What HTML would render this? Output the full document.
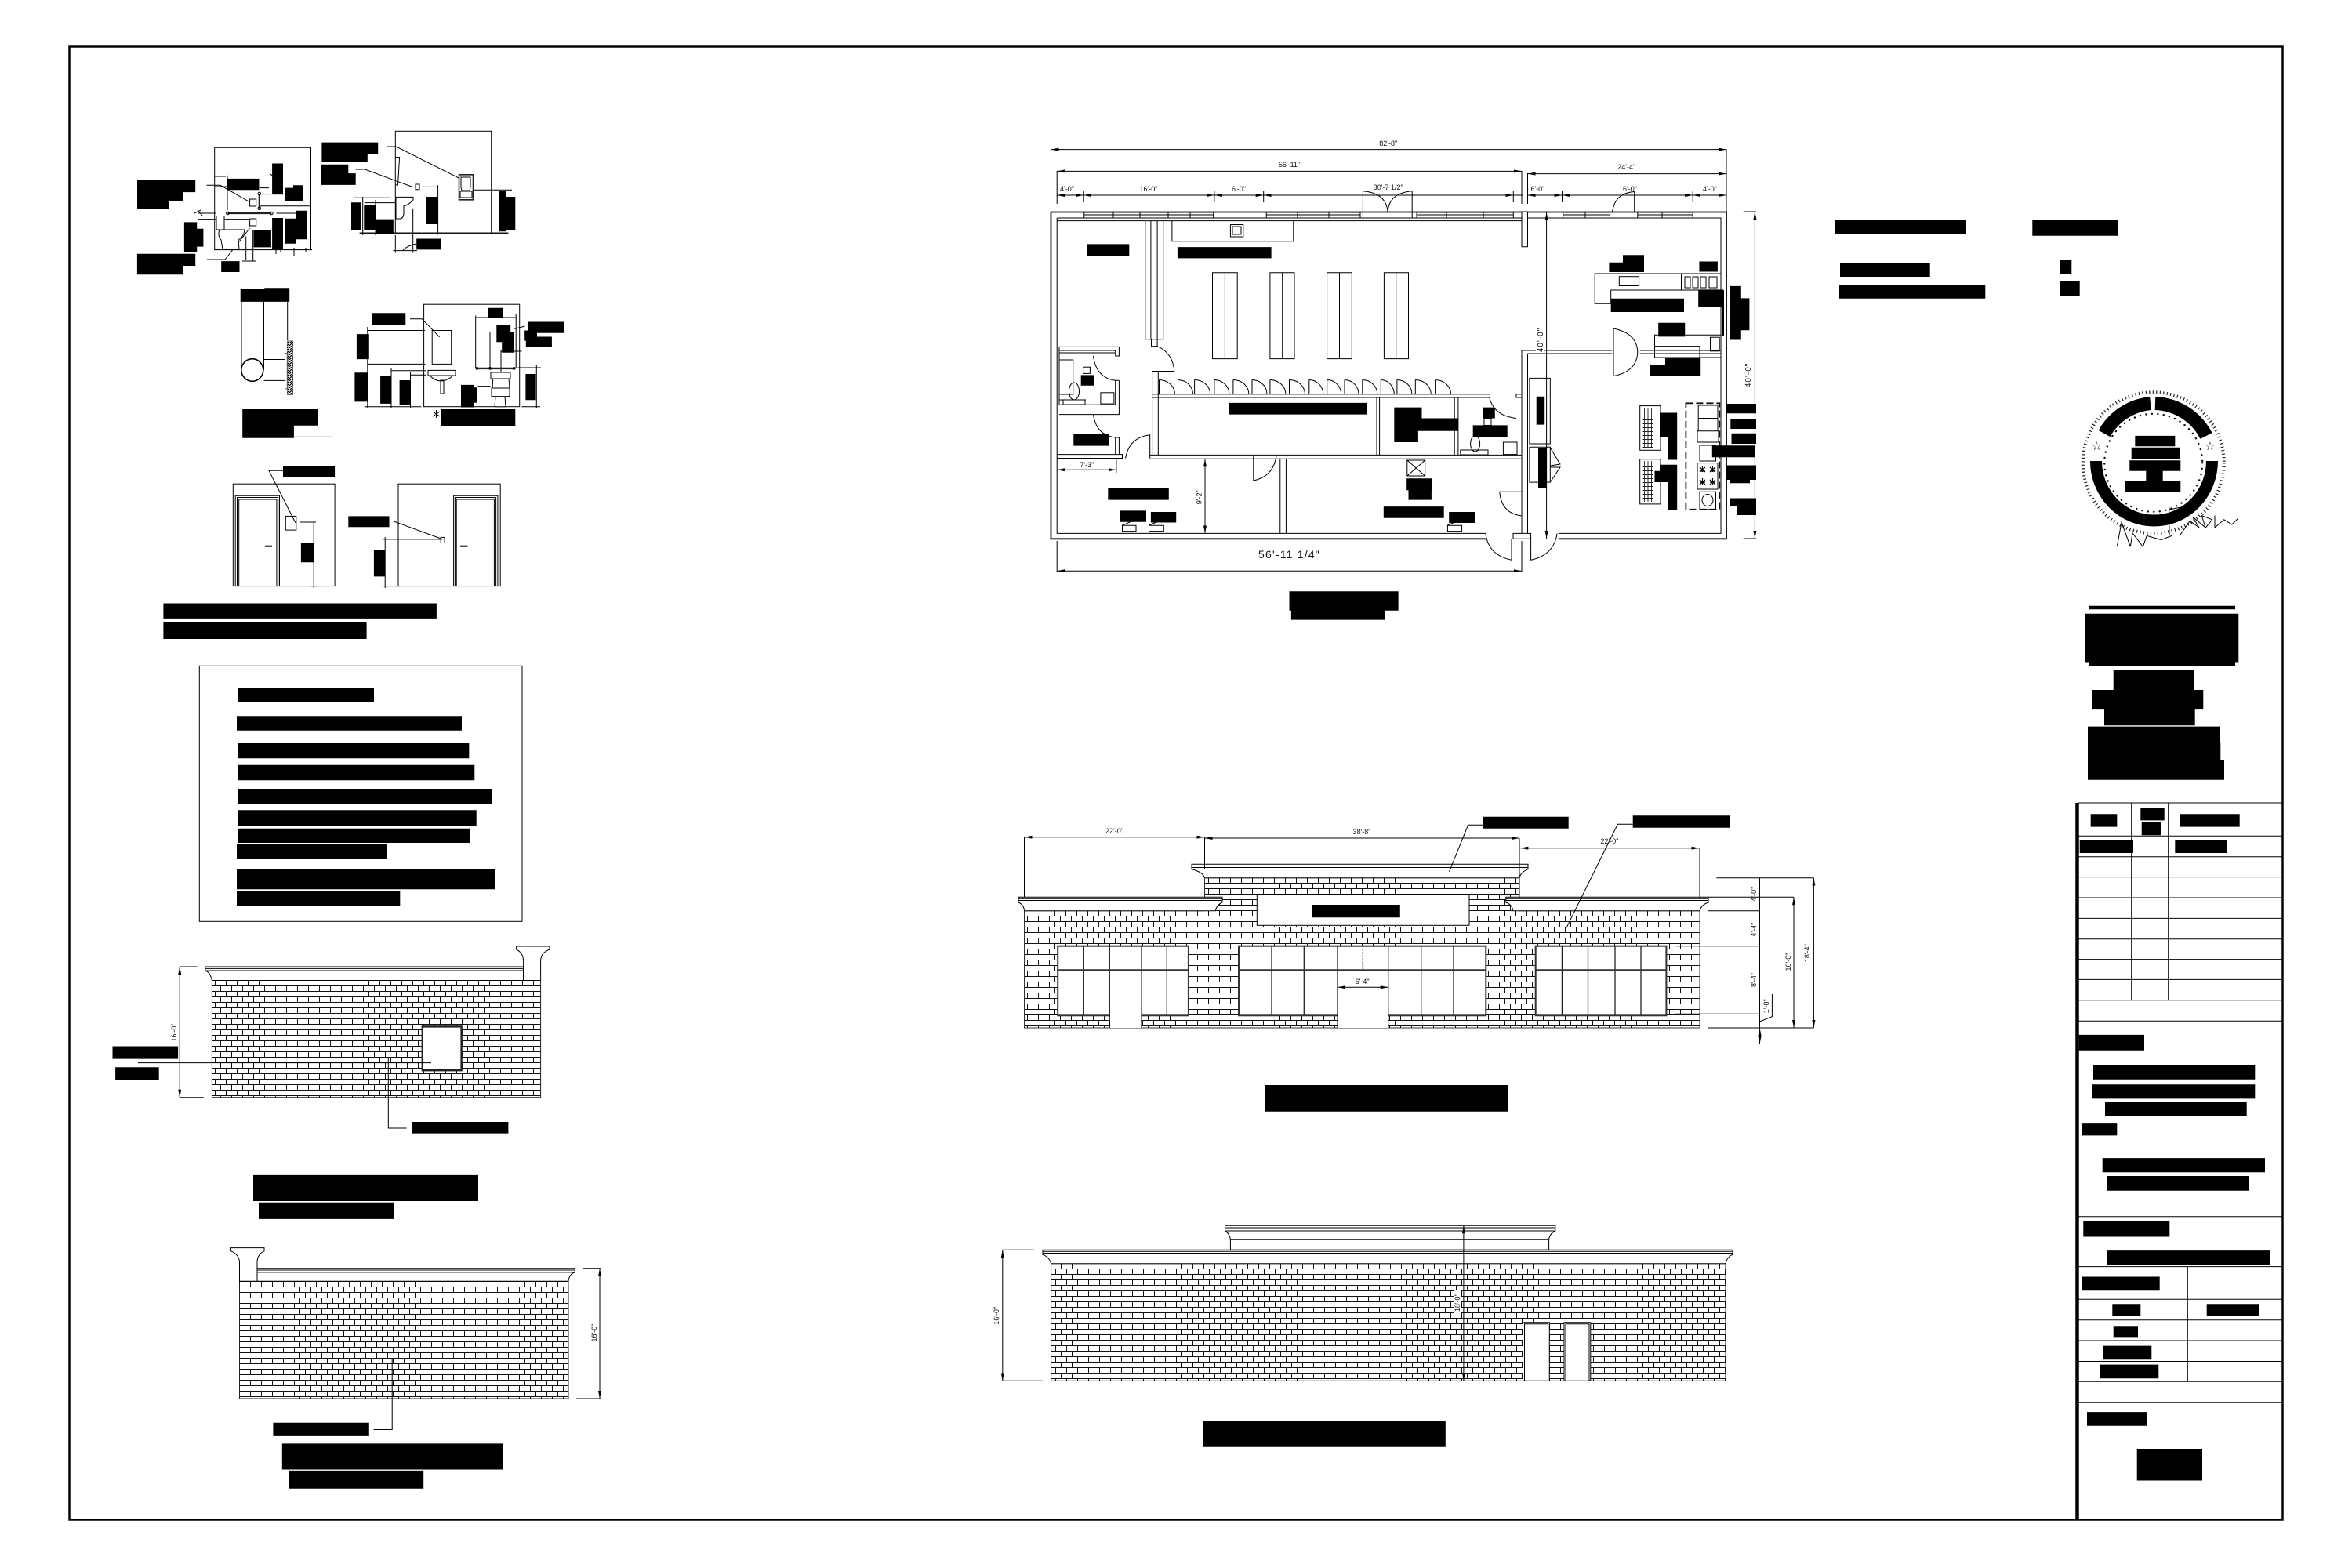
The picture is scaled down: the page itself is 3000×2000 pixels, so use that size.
<!DOCTYPE html>
<html><head><meta charset="utf-8"><title>Plan sheet</title>
<style>html,body{margin:0;padding:0;background:#fff}svg{display:block}
text{font-family:"Liberation Sans",sans-serif;fill:#111}
.d{font-size:9px;text-anchor:middle}
.l{stroke:#000;stroke-width:1;fill:none}
.m{stroke:#111;stroke-width:1.5;fill:none}
.w{stroke:#000;stroke-width:1;fill:#fff}
</style></head><body>
<svg xmlns="http://www.w3.org/2000/svg" width="3000" height="2000" viewBox="0 0 3000 2000">
<defs>
<pattern id="b1" patternUnits="userSpaceOnUse" x="274" y="1250" width="14" height="14"><path d="M0 .5H14M0 7.5H14M.5 0V7M7.5 7V14" stroke="#111" stroke-width="1" fill="none"/></pattern>
<pattern id="b2" patternUnits="userSpaceOnUse" x="305" y="1634" width="14" height="14"><path d="M0 .5H14M0 7.5H14M.5 0V7M7.5 7V14" stroke="#111" stroke-width="1" fill="none"/></pattern>
<pattern id="b3" patternUnits="userSpaceOnUse" x="1541" y="1119" width="14" height="14"><path d="M0 .5H14M0 7.5H14M.5 0V7M7.5 7V14" stroke="#111" stroke-width="1" fill="none"/></pattern>
<pattern id="b4" patternUnits="userSpaceOnUse" x="1353" y="1611" width="14" height="14"><path d="M0 .5H14M0 7.5H14M.5 0V7M7.5 7V14" stroke="#111" stroke-width="1" fill="none"/></pattern>
<pattern id="h" patternUnits="userSpaceOnUse" width="3" height="3"><path d="M0 3L3 0" stroke="#000" stroke-width="1.2"/></pattern>
<pattern id="g" patternUnits="userSpaceOnUse" width="4.5" height="5"><path d="M0 .5H5M.5 0V5" stroke="#222" stroke-width=".9" fill="none"/></pattern>
<marker id="a" viewBox="0 0 10 4" refX="10" refY="2" markerWidth="10" markerHeight="4" markerUnits="userSpaceOnUse" orient="auto-start-reverse"><path d="M0 0L10 2L0 4Z" fill="#000"/></marker>
</defs>
<rect width="3000" height="2000" fill="#fff"/>
<rect x="88.5" y="59.5" width="2823" height="1879" fill="none" stroke="#000" stroke-width="2.5"/>

<!-- TITLE BLOCK LINES -->
<path d="M2649.5 1024V1938" stroke="#000" stroke-width="4.5"/>
<path class="l" stroke-width="1" d="M2651 1024H2912M2651 1066.3H2912M2651 1092.7H2912M2651 1118.6H2912M2651 1145H2912M2651 1171.4H2912M2651 1197.8H2912M2651 1223.6H2912M2651 1249.4H2912M2651 1275.8H2912M2651 1302.3H2912M2651 1551.7H2912M2651 1615.6H2912M2651 1657.3H2912M2651 1683.7H2912M2651 1710H2912M2651 1736.5H2912M2651 1762.3H2912M2651 1788.8H2912M2718.7 1024V1275.8M2765.7 1024V1275.8M2790.3 1615.6V1762.3"/>

<!-- BATHROOM DETAIL A -->
<g class="l">
<rect x="273.7" y="188.3" width="122.8" height="130" class="l"/>
<path class="m" d="M273 318.4H398"/>
<path class="l" d="M263.5 236.3H281L317.8 257.3M263.9 331H287L318.6 291M290 223.7V268M252.4 272H275M252.4 279.6H317.8M330.8 239.6H343M330.8 247.6H346M330.8 262.8H397M352.4 272H391M313.7 301.5V331M322.7 293V333M309 333H327M274 225H288M273 238H292M345 222L352 228M252 268L258 275M352 316V324M358 316V322M375 316V326M390 316V322M248 272L256 268"/>
<path d="M290.4 272H346.3M330.8 247V265.7" stroke="#222" stroke-width="2.2" fill="none"/>
<circle cx="290.4" cy="272" r="1.8"/><circle cx="346.3" cy="272" r="1.8"/><circle cx="330.8" cy="247" r="1.8"/><circle cx="330.8" cy="265.7" r="1.8"/>
<path class="w" d="M318.6 254H326.7V263H318.6ZM318.6 279H326.7V288H318.6Z"/>
<path class="w" d="M276 275.5H286V293H276ZM280 293H312Q311 302 304 306L305 318H284L282 306Q277 300 280 293Z"/>
</g>

<!-- BATHROOM DETAIL B -->
<g>
<rect x="504.3" y="167.3" width="122.4" height="130" class="l" stroke-width="1.4"/>
<path class="m" d="M458.6 297.3H648.4"/>
<path class="l" d="M493.3 187H505.5L589.2 229.1M453.3 216H465.5L525.9 238.4M604.7 242.2H653M645.5 240.5V298M538 238.4H558.6M558.6 236.3V299.4M450.8 252.3H497.3M462.7 251V300M464.7 258.6H504.3M479 255V300M504.3 300V322.6M526.7 265.7V322.6M501.4 319.6H532M514 319Q520 313 531 311M504.3 200.5H509.6L507.5 236H504.3"/>
<path d="M585.5 222.8h18v32h-18z" fill="#fff" stroke="#222" stroke-width="1.6"/>
<path class="l" d="M588 226h12v13l-1 4h-10l-1-4zM587 244h15v8h-15z"/>
<path class="w" d="M530 235h5v6.7h-5z"/>
<path class="w" d="M505 251.4H527V255Q522 261 515 263V273Q514 279 510 279H505Z"/>
</g>

<!-- GRAB BAR SECTION -->
<g>
<path class="l" d="M308 385V472M336.5 385V472M366.7 385V434M336.5 458.5H363.5M336.5 485.4H363.5"/>
<ellipse cx="321.8" cy="472" rx="14" ry="14.3" fill="#fff" stroke="#000" stroke-width="1.6"/>
<rect x="366.3" y="434.9" width="7.4" height="68.6" fill="url(#h)" stroke="#333" stroke-width=".5"/>
<rect x="363.5" y="450.5" width="2.8" height="45.5" fill="#fff" stroke="#555"/>
<path class="l" d="M374.9 557.4H424.7"/>
</g>

<!-- BATHROOM DETAIL D -->
<g>
<rect x="540.6" y="388.2" width="122.1" height="130.5" class="l" stroke-width="1.3"/>
<rect x="551.2" y="421.5" width="24.5" height="42.9" class="l"/>
<path class="l" d="M523 406.7H538.2L560.6 429.9M468.8 421.5H542M468.8 464.4H542.5M468.8 417V520M499 472.8H543M499 470V520M523.5 478.3H543M523.5 474V520M464.7 518.7H537.3M665.5 518.7H689M606.7 402.5V470M606.7 405H658.2M658.2 400V470M625 423.6V470M639 446.7V478.3M639 448H665.5M684.3 465.7V520.4M660.6 469H690M609.6 492.6H625.5M656.5 419.4L669.6 416M552 525L561 531M552 531L561 525M556.5 523V533"/>
<path d="M608.4 469.9H655.7" stroke="#222" stroke-width="2.4"/>
<circle cx="608.4" cy="469.9" r="1.9"/><circle cx="625" cy="469.9" r="1.9"/><circle cx="655.7" cy="469.9" r="1.9"/>
<path class="w" d="M546 472.4H581V479H546Z"/>
<path class="w" d="M548 479Q562 493 578 479ZM562 485V502H566V485Z"/>
<path class="w" d="M626 475H651V483H626ZM628.8 483H649L650 495H628ZM627 495H650V505.6H627ZM632 505.6H644L645 518.7H631Z"/>
</g>

<!-- INT ELEV E -->
<g>
<rect x="297.3" y="617.2" width="129.8" height="130.4" class="l" stroke-width="1.2"/>
<path class="l" d="M300.2 747.6V632.3H356.5V747.6M304.7 747.6V637H352.9V747.6M302.5 747.6V634.5H354.7V747.6"/>
<path d="M338 696.7H347" stroke="#000" stroke-width="2"/>
<rect x="364.3" y="658.4" width="13.5" height="17.7" class="l"/>
<path class="l" d="M361 600.3H343L377 667M383 666H403M400.2 666V750M396 747.6H404"/>
<rect x="508" y="617.2" width="130.2" height="130.4" class="l" stroke-width="1.2"/>
<path class="l" d="M578.6 747.6V632.3H634.9V747.6M582.2 747.6V637H630.4V747.6M580.4 747.6V634.5H632.6V747.6"/>
<path d="M587 696.7H596.5" stroke="#000" stroke-width="2"/>
<rect x="562.2" y="685.4" width="4.9" height="7.1" class="l"/>
<path class="l" d="M502.2 665L564.7 687.9M488 687.9H564M491.2 685V750M487 747.6H510"/>
<path class="l" d="M205.5 793.5H690.4"/>
</g>

<!-- NOTES BOX -->
<rect x="254.3" y="849.3" width="411.7" height="326" class="l" stroke-width="1.2"/>

<!-- SIDE ELEV 1 -->
<g>
<rect x="270.4" y="1250.5" width="419.2" height="149.2" fill="url(#b1)" stroke="#222"/>
<path class="w" d="M261.8 1233H667.6V1250.5H270.4Q268 1240 261.8 1238Z"/>
<path class="l" d="M262 1235.4H667M262 1238H667"/>
<path class="w" d="M667.6 1250.5V1225Q667 1215 658.6 1211V1207H701V1211Q690 1215 689.6 1225V1250.5Z"/>
<rect x="538.8" y="1309.4" width="49.8" height="55.8" fill="#fff" stroke="#222" stroke-width="2.4"/>
<path class="l" d="M176 1355.6H550M229 1233H251.6M229 1399.7H259.8M495.3 1349V1439H518.6"/>
<path class="l" d="M229.2 1233V1399.7" marker-start="url(#a)" marker-end="url(#a)"/>
<text class="d" transform="translate(225,1317) rotate(-90)">16'-0"</text>
</g>

<!-- SIDE ELEV 2 -->
<g>
<rect x="305.5" y="1634.3" width="419.5" height="149.7" fill="url(#b2)" stroke="#222"/>
<path class="w" d="M733.3 1617.8H328V1634.3H725Q726 1625 733.3 1622.9Z"/>
<path class="l" d="M328 1620H733M328 1622.9H733"/>
<path class="w" d="M305.5 1634.3V1610Q305 1600 294.5 1595.8V1591.6H337V1595.8Q328 1600 328 1610V1634.3Z"/>
<path class="l" d="M743 1617.8H766.7M735 1784H767M500.2 1732.6V1823.5H476.5"/>
<path class="l" d="M765 1617.8V1784" marker-start="url(#a)" marker-end="url(#a)"/>
<text class="d" transform="translate(761,1700) rotate(-90)">16'-0"</text>
</g>

<!-- FLOOR PLAN -->
<g>
<path d="M1340.5 270.5H2202V687.3M1340.5 270V687.3H1895M1987.8 687.3H2202" stroke="#000" stroke-width="1.8" fill="none"/>
<path class="l" d="M1348.2 278H1941M1948.5 278H2195V680.4H1987.8M1895 680.4H1348.2V278M1348.2 281.6H1941"/>
<!-- windows -->
<path class="w" d="M1382.8 271H1547.7V278H1382.8ZM1615.2 271H1735V278H1615.2ZM1807 271H1930.3V278H1807ZM1993.7 271H2053.6V278H1993.7ZM2088.8 271H2159.2V278H2088.8Z"/>
<path class="l" d="M1382.8 274H1547.7M1615.2 274H1735M1807 274H1930.3M1993.7 274H2053.6M2088.8 274H2159.2M1420 271V278M1454 271V278M1490 271V278M1518 271V278M1655 271V278M1695 271V278M1845 271V278M1892 271V278M2022 271V278M2120 271V278"/>
<!-- double door -->
<path class="l" d="M1738.4 243.7V270M1801.2 243.7V270M1738.4 243.7Q1768 246 1770 270Q1772 246 1801.2 243.7M1738.4 278V270M1801.2 278V270"/>
<path class="l" d="M2084.7 244.5V270M2056.5 270Q2060 246 2084.7 244.5"/>
<!-- interior stub -->
<path class="w" d="M1941 270H1948.5V314.7H1941Z"/>
<path class="l" d="M1941 447V680.4M1948.5 451V680.4M1941 447H2056.5M1948.5 451H2056.5M2091.7 447H2195M2091.7 451H2195"/>
<path class="l" d="M2058 419V479.6M2058 419Q2088 425 2088.8 449Q2088 474 2058 479.6"/>
<!-- sink counter -->
<path class="l" d="M1494.9 281.6V307.8H1649.8V281.6"/>
<rect x="1569.4" y="286.5" width="16.4" height="15.5" class="l"/>
<rect x="1572" y="289" width="11" height="10" class="l"/>
<!-- shelves -->
<path class="l" d="M1546.5 347.8H1578.2V457.6H1546.5ZM1562.4 347.8V457.6M1619.9 347.8H1651V457.6H1619.9ZM1635.7 347.8V457.6M1692.6 347.8H1724.3V457.6H1692.6ZM1708.5 347.8V457.6M1765.4 347.8H1796.5V457.6H1765.4ZM1780.7 347.8V457.6"/>
<!-- partition -->
<path class="l" d="M1460.8 281.6V432.7H1483.7V281.6M1467.9 281.6V432.7M1476.1 281.6V432.7M1468.5 432.7V441.6H1476.1V432.7M1476 441.6Q1496 450 1497.8 473.5M1469.6 473.5H1497.8"/>
<!-- restroom -->
<path class="l" d="M1351 442.4H1427.4V454H1422.7V447H1351M1351 450H1422M1351 442.4V516.3M1427.4 485.3V528.6H1351M1422.7 485.3V516.3H1351M1422.7 485.3H1427.4M1422.7 558V579.6M1427.4 558V579.6M1422.7 558H1427.4M1348 579.6H1431.5V584.5H1348M1394.5 454Q1398 482 1422.7 485.3M1394.5 528.6Q1398 555 1422.7 558M1351 459H1368.7V503H1351M1351 510H1385"/>
<rect x="1381.6" y="468.2" width="8.8" height="8.2" class="l"/>
<ellipse cx="1370" cy="499" rx="6.5" ry="11" class="l"/>
<path class="l" d="M1356 510H1384V516H1356Z"/>
<rect x="1403.9" y="500.8" width="17" height="14.3" class="l" stroke-width="1.5"/>
<path class="l" d="M1435.6 584.5Q1440 558 1466.7 554.7V584.5"/>
<path class="l" d="M1348.2 599.2" />
<path class="l" d="M1348.2 599.2H1423.9" marker-start="url(#a)" marker-end="url(#a)"/>
<path class="l" d="M1423.9 585V603"/>
<text class="d" x="1386.3" y="596">7'-3"</text>
<!-- central block -->
<path class="l" d="M1469.6 502.9H1901M1469.6 507H1899.8M1469.6 473.5V580.4M1477.3 473.5V580.4M1466.7 580.4H1941M1466.7 585.3H1941M1756 507V580.4M1759.6 507V580.4M1855.2 507V580.4M1859.9 507V580.4M1933.9 502.9H1941V507H1933.9ZM1899.8 507Q1905 530 1933.9 533.5"/>
<path class="l" d="M1478.5 484.5V503M1478.5 484.5A20 18.5 0 0 1 1498.5 503M1502.5 484.5V503M1502.5 484.5A19 18.5 0 0 1 1521.5 503M1523.6 484.5V503M1523.6 484.5A20 18.5 0 0 1 1543.6 503M1548.9 484.5V503M1548.9 484.5A19 18.5 0 0 1 1567.9 503M1572.9 484.5V503M1572.9 484.5A20 18.5 0 0 1 1592.9 503M1597 484.5V503M1597 484.5A19 18.5 0 0 1 1616 503M1619.9 484.5V503M1619.9 484.5A20 18.5 0 0 1 1639.9 503M1644.5 484.5V503M1644.5 484.5A20 18.5 0 0 1 1664.5 503M1669.8 484.5V503M1669.8 484.5A18 18.5 0 0 1 1687.8 503M1692.7 484.5V503M1692.7 484.5A18 18.5 0 0 1 1710.7 503M1715 484.5V503M1715 484.5A18 18.5 0 0 1 1733 503M1737.8 484.5V503M1737.8 484.5A19 18.5 0 0 1 1756.8 503M1761.3 484.5V503M1761.3 484.5A17 18.5 0 0 1 1778.3 503M1781.9 484.5V503M1781.9 484.5A19 18.5 0 0 1 1800.9 503M1805.3 484.5V503M1805.3 484.5A20 18.5 0 0 1 1825.3 503M1830.6 484.5V503M1830.6 484.5A20 18.5 0 0 1 1850.6 503"/>
<rect x="1893" y="533.5" width="9" height="9" class="l"/>
<ellipse cx="1881.6" cy="566" rx="6" ry="10" class="l"/>
<path class="l" d="M1862.8 574H1898V580H1862.8Z"/>
<rect x="1917.4" y="564" width="17.6" height="15.6" class="l" stroke-width="1.4"/>
<!-- columns -->
<path class="l" d="M1950.9 482.4H1977.3V566H1950.9ZM1950.9 570.2H1977.3V615.1H1950.9ZM1977.3 571L1990 592L1977.3 594ZM1977.3 596L1990 596L1977.3 615"/>
<!-- right door & post -->
<path class="l" d="M1912.7 627.3H1941M1912.7 627.3Q1915 655 1941 658M1895 680.4Q1898 708 1928 714.3V687M1930 680.4H1952.6V687.3H1930ZM1952.6 687V714.3Q1982 708 1986.1 680.4"/>
<!-- lower rooms -->
<path class="l" d="M1632.8 585.3V680.4M1640.4 585.3V680.4M1598.8 581.6V613M1598.8 613Q1624 608 1628 581.6"/>
<path class="l" d="M1537 585.3V680.4" marker-start="url(#a)" marker-end="url(#a)"/>
<text class="d" transform="translate(1532.5,634.3) rotate(-90)">9'-2"</text>
<path class="l" d="M1431.5 670.2H1449V677.6H1431.5ZM1465.5 670.2H1484.3V677.6H1465.5ZM1846.4 670.2H1864.6V677.6H1846.4ZM1431.5 670L1448 663M1465.5 670L1482 663M1846.4 670L1863 663"/>
<rect x="1794.8" y="587" width="22.9" height="20" class="l" stroke-width="1.5"/>
<path class="l" d="M1794.8 587L1817.7 607M1817.7 587L1794.8 607"/>
<!-- kitchen -->
<path class="l" d="M2034.2 349H2195V370H2054.7V387.3H2034.2ZM2144.5 349V370M2054.7 370H2197.5V429M2198.5 370V429"/>
<rect x="2065.3" y="352.7" width="25.3" height="11.8" class="l"/>
<path class="l" d="M2149 353H2156V367H2149ZM2159 353H2166V367H2159ZM2169 353H2176V367H2169ZM2180 353H2190V367H2180Z"/>
<path class="l" d="M2110.5 427.3H2195V456H2110.5ZM2110.5 441.6H2168V456H2110.5Z"/>
<rect x="2181.5" y="430.2" width="11.7" height="17.6" class="l" stroke-width="1.6"/>
<rect x="2091.7" y="517.6" width="26.3" height="56.7" class="l" stroke-width="1.3"/>
<rect x="2095.5" y="520" width="13" height="52" fill="url(#g)"/>
<rect x="2091.7" y="585.7" width="26.3" height="57.2" class="l" stroke-width="1.3"/>
<rect x="2095.5" y="588" width="13" height="52" fill="url(#g)"/>
<rect x="2150.4" y="514.3" width="42.8" height="135.5" fill="none" stroke="#111" stroke-width="1.8" stroke-dasharray="9 4"/>
<path class="l" d="M2166.2 517H2191V533.5H2166.2ZM2166.2 533.5H2191V549.8H2166.2ZM2165 549.8H2192V564H2165ZM2168 568H2188.5V588H2168Z"/>
<rect x="2165" y="590.6" width="26" height="33.4" class="l" stroke-width="1.5"/>
<path d="M2168 596l7 6m0-6l-7 6M2168 601h7M2171.5 594v8M2181 596l7 6m0-6l-7 6M2181 601h7M2184.5 594v8M2168 612l7 6m0-6l-7 6M2168 615h7M2171.5 610v8M2181 612l7 6m0-6l-7 6M2181 615h7M2184.5 610v8" stroke="#000" stroke-width="1.2" fill="none"/>
<rect x="2168" y="627.3" width="20.5" height="22.5" class="l"/>
<ellipse cx="2178" cy="638" rx="7" ry="7.5" class="l"/>
<!-- 40'-0" lines -->
<path class="l" d="M1972.6 271V687" marker-start="url(#a)" marker-end="url(#a)"/>
<rect x="1959" y="418" width="11" height="32" fill="#fff"/>
<text class="d" transform="translate(1968,433.5) rotate(-90)" style="font-size:10px;letter-spacing:1px">40'-0"</text>
<path class="l" d="M2223.7 270H2240M2223.7 687H2240"/>
<path class="l" d="M2238.4 270V687" marker-start="url(#a)" marker-end="url(#a)"/>
<rect x="2225" y="462" width="12" height="32" fill="#fff"/>
<text class="d" transform="translate(2233,478.4) rotate(-90)" style="font-size:10px;letter-spacing:1px">40'-0"</text>
<!-- dims -->
<path class="l" d="M1340.5 190.6H2202" marker-start="url(#a)" marker-end="url(#a)"/>
<path class="l" d="M1348.2 218.4H1941" marker-start="url(#a)" marker-end="url(#a)"/>
<path class="l" d="M1948.5 221.6H2202" marker-start="url(#a)" marker-end="url(#a)"/>
<path class="l" d="M1340.5 190V270M2202 190V270M1348.2 218V260M1941 218V260M1948.5 221V260"/>
<path class="l" d="M1348.2 249H1382.2" marker-start="url(#a)" marker-end="url(#a)"/>
<path class="l" d="M1382.2 249H1548.9" marker-start="url(#a)" marker-end="url(#a)"/>
<path class="l" d="M1548.9 249H1611.7" marker-start="url(#a)" marker-end="url(#a)"/>
<path class="l" d="M1611.7 249H1930.3" marker-start="url(#a)" marker-end="url(#a)"/>
<path class="l" d="M1930.3 249H1942" />
<path class="l" d="M1948.5 249H1992.5" marker-start="url(#a)" marker-end="url(#a)"/>
<path class="l" d="M1992.5 249H2159.2" marker-start="url(#a)" marker-end="url(#a)"/>
<path class="l" d="M2159.2 249H2202" marker-start="url(#a)" marker-end="url(#a)"/>
<path class="l" d="M1382.2 244V258M1548.9 244V258M1611.7 244V258M1930.3 244V258M1992.5 244V258M2159.2 244V258"/>
<text class="d" x="1770.7" y="186">82'-8"</text>
<text class="d" x="1644.5" y="213">56'-11"</text>
<text class="d" x="2074.7" y="216">24'-4"</text>
<text class="d" x="1361" y="244">4'-0"</text>
<text class="d" x="1465" y="244">16'-0"</text>
<text class="d" x="1580" y="244">6'-0"</text>
<text class="d" x="1770.7" y="242">30'-7 1/2"</text>
<text class="d" x="1961.4" y="244">6'-0"</text>
<text class="d" x="2076.5" y="244">16'-0"</text>
<text class="d" x="2181" y="244">4'-0"</text>
<path class="l" d="M1348.2 728.2H1941" marker-start="url(#a)" marker-end="url(#a)"/>
<path class="l" d="M1348.2 690V730M1941 690V730"/>
<text class="d" x="1644.5" y="712" style="font-size:14px;letter-spacing:1.2px">56'-11 1/4"</text>
</g>

<!-- FRONT ELEVATION -->
<g>
<path d="M1306.5 1161.7H1536.5V1119.7H1938V1161.7H2168V1311H1306.5Z" fill="url(#b3)" stroke="#333"/>
<path class="w" d="M1520 1102.3H1949V1108.7Q1940 1112 1938 1119.7H1536.5Q1534 1112 1520 1108.7Z"/>
<path class="l" d="M1520 1104.5H1949M1520 1106.5H1949"/>
<path class="w" d="M1299 1144.3H1559V1151Q1552 1154 1550.3 1161.7H1306.5Q1306 1154 1299 1151Z"/>
<path class="l" d="M1299 1146.3H1559M1299 1148.5H1559"/>
<path class="w" d="M1920.8 1144.3H2179V1151Q2170 1154 2168 1161.7H1929.8Q1929 1154 1920.8 1151Z"/>
<path class="l" d="M1920.8 1146.3H2179M1920.8 1148.5H2179"/>
<rect x="1603.3" y="1140.7" width="270.7" height="39.6" class="w"/>
<!-- windows -->
<g fill="#fff" stroke="#333" stroke-width="2">
<rect x="1349.2" y="1206.7" width="166.7" height="88.6"/>
<rect x="1580" y="1206.7" width="315.3" height="88.6"/>
<rect x="1958.7" y="1206.7" width="166.7" height="88.6"/>
</g>
<path stroke="#222" stroke-width="1.3" fill="none" d="M1382.3 1206.7V1295M1415.3 1206.7V1295M1456 1206.7V1295M1488.3 1206.7V1295M1622 1206.7V1295M1663.3 1206.7V1295M1706 1206.7V1295M1770.7 1206.7V1295M1812.7 1206.7V1295M1854 1206.7V1295M1992.4 1206.7V1295M2025.5 1206.7V1295M2060 1206.7V1295M2093 1206.7V1295"/>
<path stroke="#333" stroke-width="2.2" d="M1349.2 1237.3H1515.9M1580 1237.3H1895.3M1958.7 1237.3H2125.4"/>
<rect x="1416" y="1238.5" width="39.3" height="72.5" fill="#fff"/>
<rect x="1706.5" y="1238.5" width="64" height="72.5" fill="#fff"/>
<path class="l" d="M1415.3 1295V1311M1456 1295V1311M1706 1295V1311M1770.7 1295V1311"/>
<path stroke="#666" stroke-width="1.5" stroke-dasharray="3 1" d="M1738.3 1210V1236"/>
<path class="l" d="M1706 1259.3H1770.7" marker-start="url(#a)" marker-end="url(#a)"/>
<text class="d" x="1737.6" y="1255">6'-4"</text>
<path class="l" d="M1306.5 1067.7H1536.5" marker-start="url(#a)" marker-end="url(#a)"/>
<path class="l" d="M1536.5 1069H1938" marker-start="url(#a)" marker-end="url(#a)"/>
<path class="l" d="M1939.4 1081.7H2167.4" marker-start="url(#a)" marker-end="url(#a)"/>
<path class="l" d="M1306.5 1067V1144M1536.5 1067V1109M1938 1069V1144M2168 1081V1144"/>
<text class="d" x="1421.5" y="1063">22'-0"</text>
<text class="d" x="1737" y="1064">38'-8"</text>
<text class="d" x="2053" y="1076">22'-0"</text>
<path class="l" d="M1891.2 1052.3H1872.6L1848.5 1111.7M2082.7 1051.3H2063.4L1998 1183.3"/>
<path class="l" d="M2189.4 1119.7H2313.4M2179 1144.3H2288M2179 1161.7H2244.5M2137.8 1206.7H2244.5M2137 1293.3H2244.5M2179 1311H2313.4M2260.4 1268V1296.7L2244.5 1303"/>
<path class="l" d="M2244.5 1119.7V1331.7" marker-end="url(#a)"/>
<path class="l" d="M2244.5 1311V1331.7" marker-start="url(#a)"/>
<path class="l" d="M2288 1144.3V1311" marker-start="url(#a)" marker-end="url(#a)"/>
<path class="l" d="M2313.4 1119.7V1311" marker-start="url(#a)" marker-end="url(#a)"/>
<text class="d" transform="translate(2240,1140.7) rotate(-90)">4'-0"</text>
<text class="d" transform="translate(2240,1185.7) rotate(-90)">4'-4"</text>
<text class="d" transform="translate(2240,1250) rotate(-90)">8'-4"</text>
<text class="d" transform="translate(2256,1283.3) rotate(-90)">1'-8"</text>
<text class="d" transform="translate(2284,1227) rotate(-90)">16'-0"</text>
<text class="d" transform="translate(2308,1215.7) rotate(-90)">18'-4"</text>
</g>

<!-- REAR ELEVATION -->
<g>
<rect x="1340.6" y="1611.7" width="860.4" height="149.6" fill="url(#b4)" stroke="#222"/>
<path class="w" d="M1562.5 1563.3H1983.8V1570Q1977 1573 1975.6 1580.7V1594.3H1569.4V1580.7Q1568 1573 1562.5 1570Z"/>
<path class="l" d="M1562.5 1566H1983.8M1562.5 1570H1983.8M1569.4 1580.7H1975.6"/>
<path class="w" d="M1330 1594.3H2210V1600.3Q2203 1603 2201 1611.7H1340.6Q1338 1603 1330 1600.3Z"/>
<path class="l" d="M1330 1596.3H2210M1330 1598.5H2210"/>
<path class="l" d="M1866.9 1563.3V1761.3" marker-start="url(#a)" marker-end="url(#a)"/>
<rect x="1855" y="1645" width="8" height="33" fill="#fff"/>
<text class="d" transform="translate(1862,1661.7) rotate(-90)">18'-0"</text>
<path class="w" d="M1942.5 1686.7H1976.3V1761.3H1942.5ZM1995 1686.7H2028.8V1761.3H1995Z"/>
<path class="l" d="M1944.5 1761V1688.7H1974.5V1761M1997 1761V1688.7H2027V1761"/>
<path class="l" d="M1278.8 1594.3H1319M1278.8 1761.3H1330"/>
<path class="l" d="M1278.8 1594.3V1761.3" marker-start="url(#a)" marker-end="url(#a)"/>
<text class="d" transform="translate(1274,1678.3) rotate(-90)">16'-0"</text>
</g>

<!-- SEAL -->
<g fill="none">
<circle cx="2746.7" cy="590.3" r="90" stroke="#222" stroke-width="4" stroke-dasharray="1.2 3.3"/>
<circle cx="2746.7" cy="590.3" r="62.5" stroke="#111" stroke-width="2.4" stroke-linecap="round" stroke-dasharray="0.1 7.4"/>
<path stroke="#000" stroke-width="17" d="M2684 553A76 76 0 0 1 2743 514.5M2749 514.5A76 76 0 0 1 2814 556"/>
<path stroke="#000" stroke-width="15" d="M2673.5 588A74 76 0 0 0 2821.5 588"/>
<path stroke="#000" stroke-width="1" d="M2700.3 697.2L2706 666.2L2717.3 697.2L2720 680L2733.3 697.2L2738.3 683.4L2756.7 688.6L2770 683.4M2766.7 645.5L2767 683M2766.7 650L2790 645.5M2780 683.4L2793.3 664.5L2805 673L2796.7 659.3L2813.3 673L2821.7 662.8L2808.3 657.6L2813 673M2825 657.6L2825 673L2836.7 662.8L2846.7 669L2855 661"/>
</g>
<text x="2674.3" y="574" style="font-size:15px;font-family:'DejaVu Sans',sans-serif" text-anchor="middle">☆</text>
<text x="2819" y="574" style="font-size:15px;font-family:'DejaVu Sans',sans-serif" text-anchor="middle">☆</text>

<!-- REDACTION BLOCKS -->
<path fill="#000" d="
M175 230H249.2V245.1H233.7V256H215.3V267H175Z
M290.4 227.9H330.4V242.2H290.4Z
M347.1 208.5H361V248.1H347.1Z
M363.5 239.6H374V236.3H386.7V256.5H363.5Z
M234.9 283.4H251.2V291.8H259.4V314.6H251.2V321.7H234.9Z
M174.9 323.8H249.2V339H233.7V350.3H174.9Z
M282.2 333.1H305.5V347H282.2Z
M323.5 293.9H345.9V315.4H323.5Z
M347.1 278H361V317.1H347.1Z
M363.5 278.8H377.3V310.8H363.5Z
M377.3 268.7H391.2V305.3H377.3Z
M410.4 181.6H482.2V196.3H468.8V206.8H410.4Z
M410 209.8H444.3V221.1H453.7V235.9H410Z
M448 258.2H461V293.9H448Z
M464.3 261.5H479.8V279.6H501.8V298.6H479.8V294H464.3Z
M531.2 304.5H562.2V318.4H531.2Z
M543.9 251H558.6V286H543.9Z
M636.5 243.9H645.5V251H657.3V293.1H645.5V295.2H636.5Z
M306.7 368H337.3V367.2H369.2V384.9H306.7Z
M309.2 522H405.1V542.7H374.9V558.7H309.2Z
M474.5 399.2H517.3V414.3H474.5Z
M622.2 392.8H641.8V405.9H622.2Z
M673.7 410.5H719.8V424.8H685V429.5H703.9V442H670.8V434.5H669.2V421.5H673.7Z
M633.3 414.3H651.2V423.6H655.7V449.7H640.2V436.2H633.3Z
M454.9 426.1H470.8V458.1H454.9Z
M452.4 475.3H468.8V512.4H452.4Z
M485.1 479.1H499V514.9H485.1Z
M509.6 485H523.5V516.2H509.6Z
M588 490.9H605V494.3H608.8V513.6H605V519.5H588Z
M670.4 477H683.5V510.3H670.4Z
M562.7 522H657.3V543.5H562.7Z
M361 594.9H427.1V608.8H361Z
M383.9 692.1H400.2V717.3H383.9Z
M444.3 658.4H496.5V672.3H444.3Z
M476.9 701.3H491.2V735.4H476.9Z
M208.4 769.5H556.9V788.9H208.4Z
M208.4 794H467.6V815H208.4Z
M303 877.3H477V895.7H303Z
M302 913.3H589V931.7H302Z
M303 948H598.3V967.3H303Z
M303 975.7H605.3V995.3H303Z
M303 1007H627.3V1025.3H303Z
M303 1033.3H607.7V1053H303Z
M303 1056.7H599.7V1075H303Z
M302 1076.3H494V1096H302Z
M302 1108.7H632V1134.3H302Z
M302 1136.3H510.3V1156H302Z
M143.5 1334.5H227.1V1350.6H143.5Z
M147.1 1361.2H202.7V1377.2H147.1Z
M525.5 1431H648.4V1445.6H525.5Z
M323 1498.9H610V1532H323Z
M330 1533.8H502.2V1554.9H330Z
M348.4 1814.8H470.8V1830.9H348.4Z
M359.8 1841.4H641V1874.5H359.8Z
M368 1875.9H540.2V1898.8H368Z
M1386.3 311.4H1440.3V326.1H1386.3Z
M1501.9 315.1H1621.6V329.4H1501.9Z
M1378.7 478.4H1395.1V491.8H1378.7Z
M1369.3 553H1414.5V568.6H1369.3Z
M1567.1 513.9H1743.1V528.6H1567.1Z
M1778.3 519.6H1813.5V533.5H1859.9V549.8H1808.9V564H1778.3Z
M1891 519.6H1906.8V533.5H1891Z
M1878.7 542.4H1922.7V558H1878.7Z
M1959.7 505.7H1970.2V541.6H1959.7Z
M1962 571.4H1972.6V622H1962Z
M1413.3 622.4H1490.8V637.6H1413.3Z
M1428 651.4H1462V665.7H1428Z
M1467.9 653H1500.2V666.5H1467.9Z
M1794.2 610.2H1826.5V625.3H1825.9V637.6H1796.5V625.3H1794.2Z
M1764.8 646.1H1841.7V660.8H1764.8Z
M1848.2 653H1881V667H1848.2Z
M1644.5 754.3H1783.6V778.8H1766V790.6H1646.9V778.8H1644.5Z
M2052.4 334.7H2070V325.3H2097V347H2052.4Z
M2167.4 333.5H2190.9V346.5H2167.4Z
M2054.7 380.8H2148V398H2054.7Z
M2166.2 369.4H2197.3V391.4H2166.2Z
M2206.2 364.9H2220.8V380.4H2231.4V421.2H2220.8V433.5H2206.2Z
M2115.2 411.8H2149.2V429.4H2115.2Z
M2124 456.7H2169.2V480H2104V466H2124Z
M2117 526.5H2139.2V586.5H2127.5V558H2117Z
M2117 592.7H2139.2V651H2127V615H2110.5V600.8H2117Z
M2183.8 568.2H2238.4V583.3H2183.8Z
M2202 515H2240V527.3H2202Z
M2207.3 534.7H2240V547H2207.3Z
M2208.5 552.7H2240V566H2208.5Z
M2202 593.5H2240V612H2232V616.3H2206V612H2202Z
M2206 635.5H2240V657H2216V645H2206Z
M1891.2 1041.7H2000.7V1056.7H1891.2Z
M2082.7 1040.3H2206V1055.7H2082.7Z
M1673.6 1154H1785.8V1170.3H1673.6Z
M1613 1384H1923.6V1417.7H1613Z
M1535 1812.3H1843.8V1845.7H1535Z
M2723.3 555.9H2774.3V569.3H2723.3Z
M2718.7 570.7H2780.3V585.9H2718.7Z
M2716.3 587.2H2781.3V600.7H2758.7V613.8H2781.3V627.6H2710.7V613.8H2737.3V600.7H2716.3Z
M2664 772.8H2851V777.2H2664Z
M2659.7 782.8H2855.3V845.5H2851V849H2664V845.5H2659.7Z
M2695.7 854.8H2798.3V880H2810.3V904.1H2799.7V925.2H2684V904.1H2669V880H2695.7Z
M2663 926.6H2831V947.2H2832.3V969H2837V994.8H2663Z
M2340 281H2508V298.3H2340Z
M2592.3 281H2701.3V300.7H2592.3Z
M2347 335.7H2461.7V353H2347Z
M2346 363.3H2532.3V380.7H2346Z
M2627 331H2642.3V349.7H2627Z
M2627 358.7H2652.7V377.3H2627Z
M2666.7 1038.2H2700.3V1054.6H2666.7Z
M2730.3 1030H2760.7V1046.4H2730.3Z
M2731.7 1048.7H2757V1065.2H2731.7Z
M2780.3 1038.2H2856.7V1054.6H2780.3Z
M2652.7 1071.6H2721V1088H2652.7Z
M2774.3 1071.6H2840.3V1088H2774.3Z
M2651.7 1319.9H2735V1339.8H2651.7Z
M2670 1358.6H2876.3V1376.8H2670Z
M2668 1383.2H2876.3V1401.4H2668Z
M2685 1405H2865.7V1423.7H2685Z
M2656 1433.1H2700.3V1448.4H2656Z
M2681.7 1477.1H2889V1495.3H2681.7Z
M2687.3 1500H2868.3V1518.8H2687.3Z
M2657.3 1557H2767.3V1577.5H2657.3Z
M2687.3 1595.1H2895V1613.3H2687.3Z
M2655 1628.5H2754.7V1646.2H2655Z
M2694.3 1663.2H2730.3V1678.4H2694.3Z
M2814.7 1663.2H2881V1678.4H2814.7Z
M2695.7 1691.3H2727V1705.4H2695.7Z
M2683 1716.6H2744.3V1734.2H2683Z
M2678.3 1740.6H2753.3V1758.2H2678.3Z
M2662 1801.1H2738.7V1818.7H2662Z
M2725.7 1848H2809V1888.5H2725.7Z
"/>
</svg>
</body></html>
